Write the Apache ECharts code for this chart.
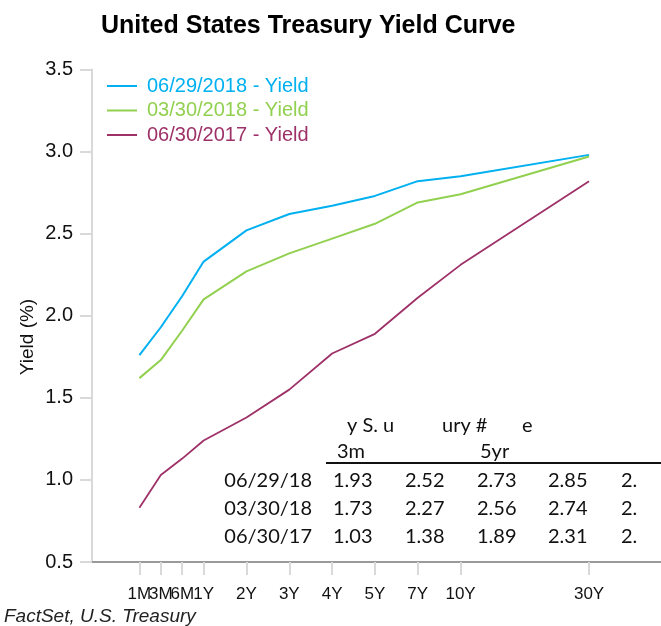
<!DOCTYPE html>
<html>
<head>
<meta charset="utf-8">
<title>United States Treasury Yield Curve</title>
<script src="https://cdn.jsdelivr.net/npm/echarts@6/dist/echarts.min.js"></script>
<style>
  html, body { margin: 0; padding: 0; background: #fff; }
  #char1 { width: 661px; height: 626px; }
</style>
</head>
<body>
<div id="char1"></div>
<script>
  // tenors and where they sit on the x scale
  var tenors = ['1M', '3M', '6M', '1Y', '2Y', '3Y', '4Y', '5Y', '7Y', '10Y', '30Y'];
  var tenorX = [1, 1.5, 2, 2.5, 3.5, 4.5, 5.5, 6.5, 7.5, 8.5, 11.5];

  var seriesNames = ['06/29/2018 - Yield', '03/30/2018 - Yield', '06/30/2017 - Yield'];
  var yield20180629 = [1.76, 1.93, 2.12, 2.33, 2.52, 2.62, 2.67, 2.73, 2.82, 2.85, 2.98];
  var yield20180330 = [1.62, 1.73, 1.91, 2.10, 2.27, 2.38, 2.47, 2.56, 2.69, 2.74, 2.97];
  var yield20170630 = [0.83, 1.03, 1.13, 1.24, 1.38, 1.55, 1.77, 1.89, 2.11, 2.31, 2.82];

  var yTicks = [0.5, 1.0, 1.5, 2.0, 2.5, 3.0, 3.5];

  // pasted table (partly cut off in the source)
  var tableHeader1 = ['y S. u', 'ury #', 'e'];
  var tableHeader2 = ['3m', '5yr'];
  var tableRowLabels = ['06/29/18', '03/30/18', '06/30/17'];
  var tableRows = [
    ['1.93', '2.52', '2.73', '2.85', '2.'],
    ['1.73', '2.27', '2.56', '2.74', '2.'],
    ['1.03', '1.38', '1.89', '2.31', '2.']
  ];

  var colors = ['#00b0f0', '#92d050', '#9e3268'];

  function pairs(vals) {
    var out = [];
    for (var i = 0; i < vals.length; i++) {
      out.push([tenorX[i], vals[i]]);
    }
    return out;
  }

  function tenorLabel(v) {
    for (var i = 0; i < tenorX.length; i++) {
      if (Math.abs(tenorX[i] - v) < 1e-6) return tenors[i];
    }
    return '';
  }

  function initYieldCurve() {
    var dom = document.getElementById("char1");
    var myChart = echarts.init(dom);
    var tblFont = 'Lato, "Open Sans", sans-serif';
    var g = [];

    var hx1 = [347, 442, 522];
    for (var i = 0; i < tableHeader1.length; i++) {
      g.push({type: 'text', x: hx1[i], y: 426, style: {text: tableHeader1[i], font: '20px ' + tblFont, fill: '#111', textVerticalAlign: 'middle'}});
    }
    var hx2 = [337, 480];
    for (var i = 0; i < tableHeader2.length; i++) {
      g.push({type: 'text', x: hx2[i], y: 452, style: {text: tableHeader2[i], font: '20px ' + tblFont, fill: '#111', textVerticalAlign: 'middle'}});
    }
    g.push({type: 'line', shape: {x1: 326, y1: 463, x2: 661, y2: 463}, style: {stroke: '#111', lineWidth: 2}});
    var rowY = [481, 509, 537];
    var colX = [333, 405, 477, 548, 621];
    for (var r = 0; r < tableRowLabels.length; r++) {
      g.push({type: 'text', x: 312, y: rowY[r], style: {text: tableRowLabels[r], font: '20px ' + tblFont, fill: '#111', textAlign: 'right', textVerticalAlign: 'middle'}});
      for (var c = 0; c < tableRows[r].length; c++) {
        g.push({type: 'text', x: colX[c], y: rowY[r], style: {text: tableRows[r][c], font: '20px ' + tblFont, fill: '#111', textVerticalAlign: 'middle'}});
      }
    }
    g.push({type: 'text', x: 4, y: 617, style: {text: 'FactSet, U.S. Treasury', font: 'italic 19px "Liberation Sans", Arial, sans-serif', fill: '#222', textVerticalAlign: 'middle'}});
    g.push({type: 'text', x: 28, y: 337, rotation: Math.PI / 2, style: {text: 'Yield (%)', font: '19px "Liberation Sans", Arial, sans-serif', fill: '#111', textAlign: 'center', textVerticalAlign: 'middle'}});

    // the short tenor labels touch each other, so split them over two label axes
    var labelsA = [], labelsB = [];
    for (var i = 0; i < tenorX.length; i++) {
      if (i % 2 == 0) labelsA.push(tenorX[i]); else labelsB.push(tenorX[i]);
    }

    var option = null;
    option = {
      animation: false,
      textStyle: {fontFamily: '"Liberation Sans", Arial, sans-serif'},
      title: {
        text: 'United States Treasury Yield Curve',
        left: 96,
        top: 9,
        textStyle: {fontSize: 25, fontWeight: 'bold', color: '#000'}
      },
      legend: {
        orient: 'vertical',
        left: 102,
        top: 71,
        icon: 'rect',
        itemWidth: 30,
        itemHeight: 2,
        itemGap: 4.5,
        textStyle: {fontSize: 20, lineHeight: 20, padding: [0, 0, 0, 5]},
        data: [
          {name: seriesNames[0], textStyle: {color: colors[0]}},
          {name: seriesNames[1], textStyle: {color: colors[1]}},
          {name: seriesNames[2], textStyle: {color: colors[2]}}
        ]
      },
      grid: {
        left: 92,
        right: 0,
        top: 69.5,
        bottom: 64
      },
      xAxis: [
        {
          type: 'value',
          min: -0.107,
          max: 13.18,
          axisLine: {show: true, onZero: false, lineStyle: {color: '#9a9a9a', width: 2}},
          axisTick: {show: true, customValues: tenorX, length: 13, lineStyle: {color: '#d9d9d9', width: 2}},
          axisLabel: {
            customValues: labelsA,
            showMinLabel: true,
            showMaxLabel: true,
            fontSize: 17,
            color: '#111',
            margin: 24,
            formatter: tenorLabel
          },
          splitLine: {show: false}
        },
        {
          type: 'value',
          position: 'bottom',
          offset: 0,
          min: -0.107,
          max: 13.18,
          axisLine: {show: false, onZero: false},
          axisTick: {show: false},
          axisLabel: {
            customValues: labelsB,
            showMinLabel: true,
            showMaxLabel: true,
            fontSize: 17,
            color: '#111',
            margin: 24,
            formatter: tenorLabel
          },
          splitLine: {show: false}
        }
      ],
      yAxis: {
        type: 'value',
        min: yTicks[0],
        max: yTicks[yTicks.length - 1],
        interval: 0.5,
        axisLine: {show: true, onZero: false, lineStyle: {color: '#d9d9d9', width: 2}},
        axisTick: {show: true, length: 12, lineStyle: {color: '#d9d9d9', width: 2}},
        axisLabel: {
          fontSize: 20,
          color: '#111',
          margin: 19,
          formatter: function(v) { return v.toFixed(1); }
        },
        splitLine: {show: false}
      },
      series: [
        {name: seriesNames[0], type: 'line', data: pairs(yield20180629), symbol: 'none', lineStyle: {color: colors[0], width: 2}, itemStyle: {color: colors[0]}},
        {name: seriesNames[1], type: 'line', data: pairs(yield20180330), symbol: 'none', lineStyle: {color: colors[1], width: 2}, itemStyle: {color: colors[1]}},
        {name: seriesNames[2], type: 'line', data: pairs(yield20170630), symbol: 'none', lineStyle: {color: colors[2], width: 1.8}, itemStyle: {color: colors[2]}}
      ],
      graphic: g
    };
    if (option && typeof option === "object") {
      myChart.setOption(option, true);
    }
  }

  initYieldCurve();
</script>
</body>
</html>
